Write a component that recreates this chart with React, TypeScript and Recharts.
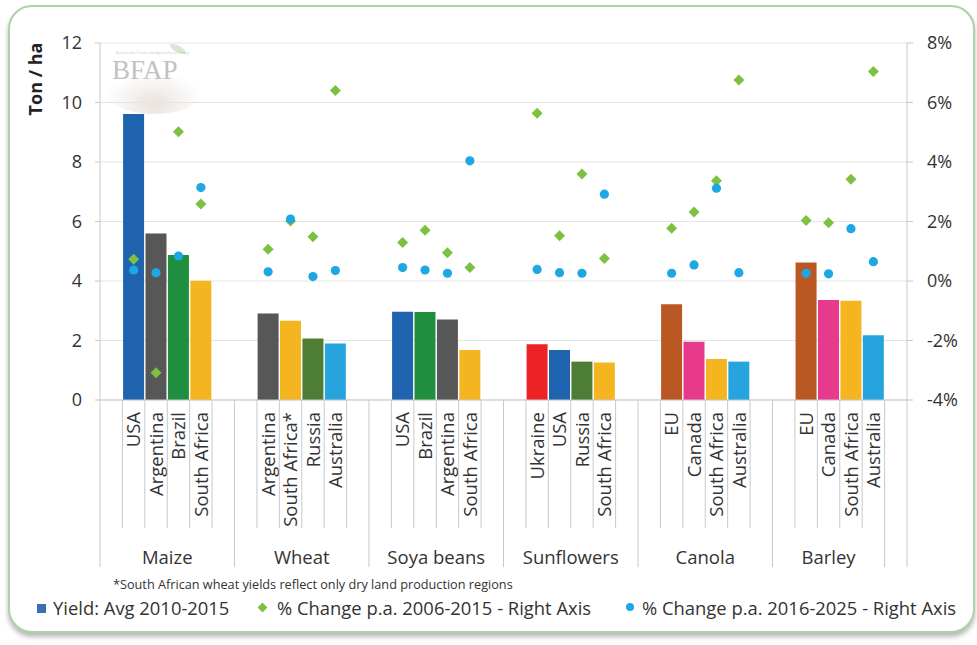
import React from "react";
import { Bar, CartesianGrid, Cell, ComposedChart, Scatter, XAxis, YAxis } from "recharts";

// slot layout along the category axis: blank, 4 countries, blank per crop
const crops = ["Maize", "Wheat", "Soya beans", "Sunflowers", "Canola", "Barley", ""];
const cropSlots = [6, 6, 6, 6, 6, 5, 1];

const countries = [
  "", "USA", "Argentina", "Brazil", "South Africa", "",
  "", "Argentina", "South Africa*", "Russia", "Australia", "",
  "", "USA", "Brazil", "Argentina", "South Africa", "",
  "", "Ukraine", "USA", "Russia", "South Africa", "",
  "", "EU", "Canada", "South Africa", "Australia", "",
  "", "EU", "Canada", "South Africa", "Australia",
  "",
];

// Ton / ha
const yieldAvg = [
  null, 9.61, 5.6, 4.87, 4.01, null,
  null, 2.91, 2.66, 2.07, 1.9, null,
  null, 2.97, 2.96, 2.71, 1.68, null,
  null, 1.87, 1.68, 1.29, 1.26, null,
  null, 3.22, 1.96, 1.38, 1.29, null,
  null, 4.62, 3.36, 3.34, 2.18,
  null,
];

// % change p.a. 2006-2015
const change0615 = [
  null, 0.73, -3.08, 5.02, 2.59, null,
  null, 1.07, 2.02, 1.49, 6.4, null,
  null, 1.29, 1.71, 0.95, 0.45, null,
  null, 5.64, 1.52, 3.6, 0.76, null,
  null, 1.77, 2.32, 3.37, 6.76, null,
  null, 2.03, 1.96, 3.42, 7.04,
  null,
];

// % change p.a. 2016-2025
const change1625 = [
  null, 0.37, 0.28, 0.84, 3.14, null,
  null, 0.31, 2.08, 0.15, 0.35, null,
  null, 0.45, 0.37, 0.26, 4.04, null,
  null, 0.39, 0.28, 0.26, 2.92, null,
  null, 0.26, 0.54, 3.12, 0.28, null,
  null, 0.26, 0.24, 1.76, 0.65,
  null,
];

const leftTicks = [0, 2, 4, 6, 8, 10, 12];
const rightTicks = [-4, -2, 0, 2, 4, 6, 8];

const countryColors: Record<string, string> = {
  USA: "#1f62ae",
  Argentina: "#575757",
  Brazil: "#1f8f3f",
  "South Africa": "#f4b520",
  "South Africa*": "#f4b520",
  Russia: "#4e7e36",
  Australia: "#27a4de",
  Ukraine: "#ec2227",
  EU: "#b95823",
  Canada: "#e83a8d",
};

const data = countries.map((c, i) => ({
  slot: "s" + i,
  country: c,
  yield: yieldAvg[i],
  g: change0615[i],
  b: change1625[i],
}));

const groupStarts: number[] = [];
cropSlots.reduce((acc, n) => {
  groupStarts.push(acc);
  return acc + n;
}, 0);

const PLOT_L = 100;
const PLOT_R = 907;
const SLOT_W = (PLOT_R - PLOT_L) / countries.length;
const FONT = "'Open Sans', sans-serif";
const TXT = "#333";
const LINE = "#c9c9c9";

function CountryTick(props: any) {
  const { x, y } = props;
  const i = props.index ?? props.payload?.index ?? 0;
  const left = x - SLOT_W / 2;
  const gi = groupStarts.indexOf(i);
  const tall = gi >= 0;
  return (
    <g>
      <line x1={left} x2={left} y1={y} y2={tall ? y + 167 : y + 128} stroke={LINE} />
      {i === countries.length - 1 && (
        <line x1={x + SLOT_W / 2} x2={x + SLOT_W / 2} y1={y} y2={y + 167} stroke={LINE} />
      )}
      {countries[i] && (
        <text
          x={x}
          y={y + 12}
          dy="0.36em"
          textAnchor="end"
          transform={`rotate(-90, ${x}, ${y + 12})`}
          fontSize={18.5}
          fontFamily={FONT}
          fill={TXT}
        >
          {countries[i]}
        </text>
      )}
      {tall && crops[gi] && (
        <text
          x={left + (cropSlots[gi] * SLOT_W) / 2}
          y={y + 164}
          textAnchor="middle"
          fontSize={18.5}
          fontFamily={FONT}
          fill={TXT}
        >
          {crops[gi]}
        </text>
      )}
    </g>
  );
}

const Diamond = (p: any) => {
  if (p.payload?.g == null || p.cx == null) return <g />;
  const r = 5.5;
  return (
    <polygon
      points={`${p.cx},${p.cy - r} ${p.cx + r},${p.cy} ${p.cx},${p.cy + r} ${p.cx - r},${p.cy}`}
      fill="#7cc142"
    />
  );
};

const Dot = (p: any) => {
  if (p.payload?.b == null || p.cx == null) return <g />;
  return <circle cx={p.cx} cy={p.cy} r={4.6} fill="#1ea7e4" />;
};

const AxisTitle = (p: any) => {
  const vb = p.viewBox || { x: 40, y: 43 };
  const x = vb.x - 4;
  const y = vb.y + 36;
  return (
    <text
      x={x}
      y={y}
      dy="0.35em"
      textAnchor="middle"
      transform={`rotate(-90, ${x}, ${y})`}
      fontSize={18}
      fontWeight={700}
      fontFamily={FONT}
      fill="#222"
    >
      Ton / ha
    </text>
  );
};

export default function App() {
  return (
    <div
      style={{
        position: "absolute",
        left: 0,
        top: 0,
        width: 977,
        height: 645,
        background: "#fff",
        fontFamily: FONT,
        overflow: "hidden",
      }}
    >
      <div
        style={{
          position: "absolute",
          left: 8,
          top: 5,
          width: 963,
          height: 624,
          border: "2px solid #a9d4a3",
          borderRadius: 24,
          boxShadow: "0 4px 5px rgba(0,0,0,0.28)",
          background: "#fff",
        }}
      />
      {/* faint BFAP watermark */}
      <div style={{ position: "absolute", left: 106, top: 44, width: 100, height: 72, pointerEvents: "none" }}>
        <div
          style={{
            position: "absolute",
            left: 2,
            top: 30,
            width: 92,
            height: 40,
            borderRadius: "50%",
            background: "radial-gradient(ellipse at 50% 75%, rgba(170,140,120,0.25), rgba(220,220,220,0.04) 72%)",
          }}
        />
        <div
          style={{
            position: "absolute",
            left: 6,
            top: 11,
            fontFamily: "'Liberation Serif', serif",
            fontSize: 27,
            color: "#c2c2c2",
          }}
        >
          BFAP
        </div>
        <div style={{ position: "absolute", left: 10, top: 6, fontSize: 4, color: "#ccc" }}>
          Bureau for Food and Agricultural Policy
        </div>
        <div
          style={{
            position: "absolute",
            left: 64,
            top: 0,
            width: 16,
            height: 10,
            borderRadius: "0 100% 0 100%",
            background: "rgba(150,190,130,0.35)",
          }}
        />
      </div>
      <div style={{ position: "absolute", left: 0, top: 0 }}>
        <ComposedChart
          width={977}
          height={645}
          data={data}
          margin={{ top: 43, right: 10, left: 40, bottom: 75 }}
          barCategoryGap="3%"
        >
          <CartesianGrid yAxisId="left" vertical={false} stroke="#e4e4e4" />
          <XAxis
            dataKey="slot"
            height={170}
            interval={0}
            tickLine={false}
            tickSize={0}
            tickMargin={0}
            axisLine={{ stroke: LINE }}
            tick={<CountryTick />}
          />
          <YAxis
            yAxisId="left"
            width={60}
            domain={[0, 12]}
            ticks={leftTicks}
            axisLine={{ stroke: LINE }}
            tickLine={{ stroke: LINE }}
            tickSize={5}
            tickMargin={13}
            tick={{ fontSize: 18, fill: TXT, fontFamily: FONT }}
            label={<AxisTitle />}
          />
          <YAxis
            yAxisId="right"
            orientation="right"
            width={60}
            domain={[-4, 8]}
            ticks={rightTicks}
            tickFormatter={(v) => `${v}%`}
            axisLine={{ stroke: LINE }}
            tickLine={{ stroke: LINE }}
            tickSize={6}
            tickMargin={14}
            tick={{ fontSize: 18, fill: TXT, fontFamily: FONT, textAnchor: "start" }}
          />
          <Bar yAxisId="left" dataKey="yield" isAnimationActive={false}>
            {data.map((d, i) => (
              <Cell key={i} fill={countryColors[d.country] || "#000"} />
            ))}
          </Bar>
          <Scatter yAxisId="right" dataKey="g" shape={<Diamond />} isAnimationActive={false} />
          <Scatter yAxisId="right" dataKey="b" shape={<Dot />} isAnimationActive={false} />
        </ComposedChart>
      </div>
      <div
        style={{
          position: "absolute",
          left: 113,
          top: 575,
          fontSize: 12.7,
          color: "#333",
          whiteSpace: "nowrap",
        }}
      >
        *South African wheat yields reflect only dry land production regions
      </div>
      <div style={{ position: "absolute", left: 0, top: 595, height: 26, fontSize: 18.4, color: TXT, whiteSpace: "nowrap" }}>
        <div style={{ position: "absolute", left: 37, top: 9, width: 9, height: 9, background: "#3a6fb0" }} />
        <div style={{ position: "absolute", left: 53, top: 0 }}>Yield: Avg 2010-2015</div>
        <div
          style={{
            position: "absolute",
            left: 259,
            top: 9,
            width: 7,
            height: 7,
            background: "#7cc142",
            transform: "rotate(45deg)",
          }}
        />
        <div style={{ position: "absolute", left: 277, top: 0 }}>% Change p.a. 2006-2015 - Right Axis</div>
        <div
          style={{
            position: "absolute",
            left: 626,
            top: 8,
            width: 8,
            height: 8,
            borderRadius: "50%",
            background: "#1ea7e4",
          }}
        />
        <div style={{ position: "absolute", left: 642, top: 0 }}>% Change p.a. 2016-2025 - Right Axis</div>
      </div>
    </div>
  );
}
